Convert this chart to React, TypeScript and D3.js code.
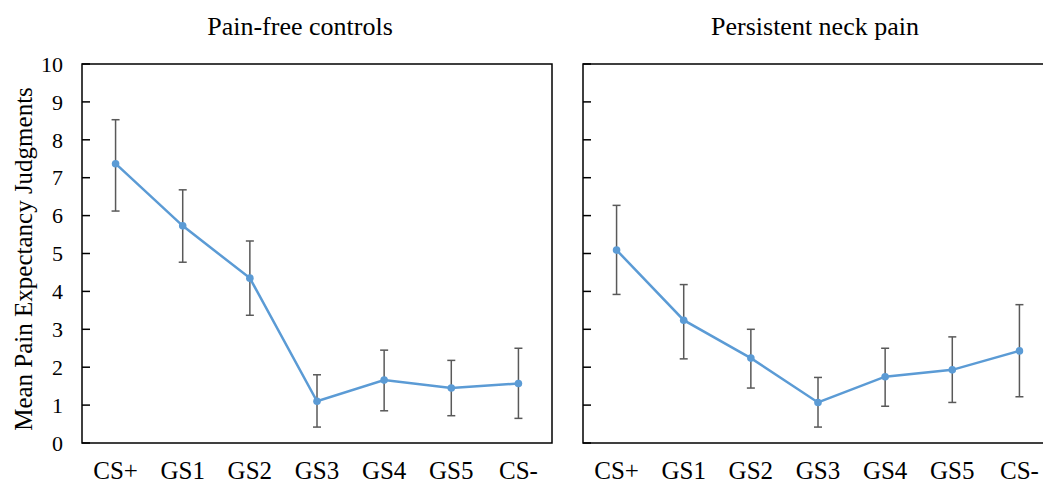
import React, { useEffect, useRef } from "react";
import * as d3 from "d3";

const categories = ["CS+", "GS1", "GS2", "GS3", "GS4", "GS5", "CS-"];
const yTicks = [0, 1, 2, 3, 4, 5, 6, 7, 8, 9, 10];

const controlMean = [7.37, 5.73, 4.35, 1.1, 1.66, 1.45, 1.57];
const controlUpper = [8.53, 6.68, 5.33, 1.8, 2.45, 2.18, 2.5];
const controlLower = [6.12, 4.77, 3.37, 0.42, 0.85, 0.72, 0.65];

const neckMean = [5.09, 3.24, 2.24, 1.07, 1.75, 1.93, 2.43];
const neckUpper = [6.27, 4.18, 3.0, 1.73, 2.5, 2.8, 3.65];
const neckLower = [3.92, 2.22, 1.45, 0.42, 0.97, 1.07, 1.22];

const panels = [
  { title: "Pain-free controls", mean: controlMean, upper: controlUpper, lower: controlLower, left: 82, titleShift: -17, showYLabels: true },
  { title: "Persistent neck pain", mean: neckMean, upper: neckUpper, lower: neckLower, left: 583, titleShift: -3, showYLabels: false },
];

const App = () => {
  const chartRef = useRef(null);

  useEffect(() => {
    drawChart();
  }, []);

  const drawChart = () => {
    const width = 1043;
    const height = 486;
    const top = 64;
    const bottom = 443;
    const panelWidth = 470;
    const font = "'Liberation Serif', 'Times New Roman', serif";

    const svg = d3.select(chartRef.current);
    svg.selectAll("*").remove();
    svg.attr("width", width).attr("height", height);

    const y = d3.scaleLinear().domain([0, 10]).range([bottom, top]);

    panels.forEach((p) => {
      const x = d3
        .scaleBand()
        .domain(categories)
        .range([p.left, p.left + panelWidth]);
      const cx = (c) => x(c) + x.bandwidth() / 2;

      const g = svg.append("g");

      // frame
      g.append("rect")
        .attr("x", p.left)
        .attr("y", top)
        .attr("width", panelWidth)
        .attr("height", bottom - top)
        .attr("fill", "none")
        .attr("stroke", "#000")
        .attr("stroke-width", 1.5);

      // y axis ticks pointing inward
      g.selectAll(".ytick")
        .data(yTicks)
        .join("line")
        .attr("x1", p.left)
        .attr("x2", p.left + 8)
        .attr("y1", (d) => y(d))
        .attr("y2", (d) => y(d))
        .attr("stroke", "#000")
        .attr("stroke-width", 1.5);

      if (p.showYLabels) {
        g.selectAll(".ylab")
          .data(yTicks)
          .join("text")
          .attr("x", p.left - 19)
          .attr("y", (d) => y(d))
          .attr("dy", "0.35em")
          .attr("text-anchor", "end")
          .attr("font-family", font)
          .attr("font-size", 22)
          .text((d) => d);
      }

      // category labels
      g.selectAll(".xlab")
        .data(categories)
        .join("text")
        .attr("x", (d) => cx(d))
        .attr("y", 479)
        .attr("text-anchor", "middle")
        .attr("font-family", font)
        .attr("font-size", 25)
        .text((d) => d);

      // title
      g.append("text")
        .attr("x", p.left + panelWidth / 2 + p.titleShift)
        .attr("y", 35)
        .attr("text-anchor", "middle")
        .attr("font-family", font)
        .attr("font-size", 26)
        .text(p.title);

      // error bars
      const bars = g
        .selectAll(".err")
        .data(categories)
        .join("g");
      bars
        .append("line")
        .attr("x1", (d) => cx(d))
        .attr("x2", (d) => cx(d))
        .attr("y1", (d, i) => y(p.upper[i]))
        .attr("y2", (d, i) => y(p.lower[i]))
        .attr("stroke", "#595959")
        .attr("stroke-width", 1.5);
      [p.upper, p.lower].forEach((arr) => {
        bars
          .append("line")
          .attr("x1", (d) => cx(d) - 4)
          .attr("x2", (d) => cx(d) + 4)
          .attr("y1", (d, i) => y(arr[i]))
          .attr("y2", (d, i) => y(arr[i]))
          .attr("stroke", "#595959")
          .attr("stroke-width", 1.5);
      });

      const line = d3
        .line()
        .x((d, i) => cx(categories[i]))
        .y((d) => y(d));

      g.append("path")
        .datum(p.mean)
        .attr("fill", "none")
        .attr("stroke", "#5B9BD5")
        .attr("stroke-width", 2.5)
        .attr("d", line);

      g.selectAll(".pt")
        .data(p.mean)
        .join("circle")
        .attr("cx", (d, i) => cx(categories[i]))
        .attr("cy", (d) => y(d))
        .attr("r", 3.8)
        .attr("fill", "#5B9BD5");
    });

    // y axis title
    svg
      .append("text")
      .attr("transform", `translate(32,259) rotate(-90)`)
      .attr("text-anchor", "middle")
      .attr("font-family", font)
      .attr("font-size", 25)
      .text("Mean Pain Expectancy Judgments");
  };

  return (
    <svg
      ref={chartRef}
      style={{ position: "absolute", left: 0, top: 0, background: "#fff" }}
    ></svg>
  );
};

export default App;
